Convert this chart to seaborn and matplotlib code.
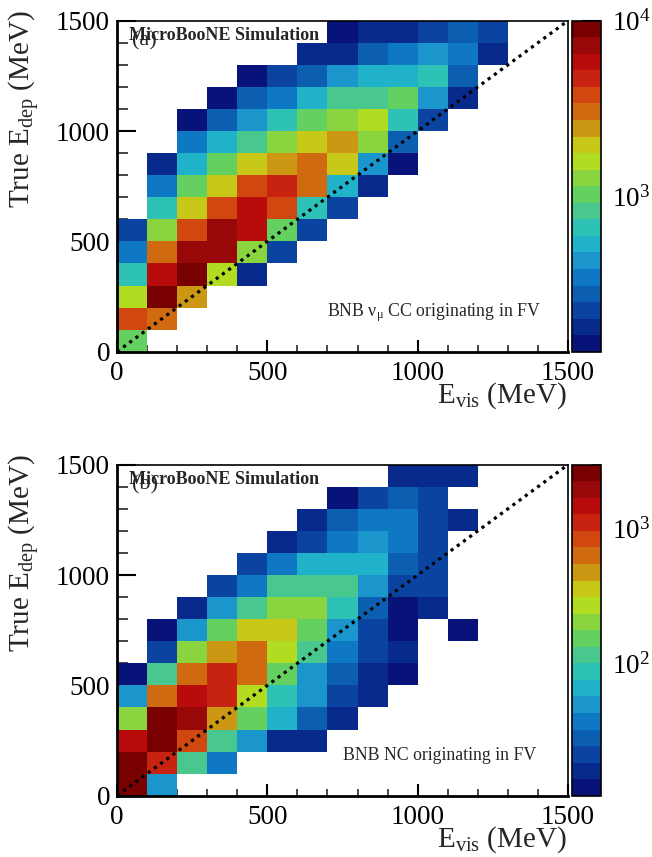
import numpy as np
import pandas as pd
import matplotlib
matplotlib.use("Agg")
import matplotlib.pyplot as plt
import seaborn as sns
from matplotlib.colors import ListedColormap, LogNorm
from matplotlib.ticker import MultipleLocator, LogLocator, NullFormatter

# bin centres (MeV), 15 bins of 100 MeV on both axes
bin_centers = [50, 150, 250, 350, 450, 550, 650, 750, 850, 950, 1050, 1150, 1250, 1350, 1450]

# BNB numu CC, rows = true E_dep bins (bottom -> top), cols = E_vis bins
cc_counts = [
    [1023, 0, 0, 0, 0, 0, 0, 0, 0, 0, 0, 0, 0, 0, 0],
    [3767, 3033, 0, 0, 0, 0, 0, 0, 0, 0, 0, 0, 0, 0, 0],
    [1580, 8980, 2440, 0, 0, 0, 0, 0, 0, 0, 0, 0, 0, 0, 0],
    [662, 5816, 8980, 1580, 180, 0, 0, 0, 0, 0, 0, 0, 0, 0, 0],
    [345, 3033, 7228, 7228, 1271, 224, 0, 0, 0, 0, 0, 0, 0, 0, 0],
    [224, 1271, 3767, 7228, 5816, 1023, 224, 0, 0, 0, 0, 0, 0, 0, 0],
    [0, 662, 1964, 3767, 5816, 3767, 662, 224, 0, 0, 0, 0, 0, 0, 0],
    [0, 345, 1023, 1964, 3767, 4680, 3033, 533, 180, 0, 0, 0, 0, 0, 0],
    [0, 180, 533, 1023, 1964, 2440, 3033, 1964, 430, 145, 0, 0, 0, 0, 0],
    [0, 0, 345, 533, 824, 1271, 1964, 2440, 1271, 278, 0, 0, 0, 0, 0],
    [0, 0, 145, 278, 430, 662, 1023, 1271, 1580, 662, 224, 0, 0, 0, 0],
    [0, 0, 0, 145, 278, 345, 533, 824, 824, 1023, 430, 180, 0, 0, 0],
    [0, 0, 0, 0, 145, 224, 278, 430, 533, 533, 662, 278, 0, 0, 0],
    [0, 0, 0, 0, 0, 0, 180, 180, 278, 345, 430, 345, 180, 0, 0],
    [0, 0, 0, 0, 0, 0, 0, 145, 180, 180, 224, 278, 224, 0, 0],
]

# BNB NC
nc_counts = [
    [2605, 48, 0, 0, 0, 0, 0, 0, 0, 0, 0, 0, 0, 0, 0],
    [2605, 1107, 113, 36, 0, 0, 0, 0, 0, 0, 0, 0, 0, 0, 0],
    [1472, 2605, 832, 113, 48, 15, 15, 0, 0, 0, 0, 0, 0, 0, 0],
    [200, 2605, 1958, 471, 150, 64, 27, 15, 0, 0, 0, 0, 0, 0, 0],
    [48, 626, 1472, 1107, 266, 85, 48, 20, 15, 0, 0, 0, 0, 0, 0],
    [12, 113, 626, 1107, 626, 150, 48, 27, 15, 12, 0, 0, 0, 0, 0],
    [0, 20, 200, 471, 626, 266, 113, 36, 20, 15, 0, 0, 0, 0, 0],
    [0, 12, 48, 150, 354, 354, 150, 48, 20, 12, 0, 12, 0, 0, 0],
    [0, 0, 15, 48, 113, 200, 200, 85, 27, 12, 15, 0, 0, 0, 0],
    [0, 0, 0, 20, 36, 113, 113, 113, 48, 20, 20, 0, 0, 0, 0],
    [0, 0, 0, 0, 20, 36, 64, 64, 64, 27, 20, 0, 0, 0, 0],
    [0, 0, 0, 0, 0, 15, 20, 36, 48, 36, 20, 0, 0, 0, 0],
    [0, 0, 0, 0, 0, 0, 15, 27, 36, 36, 20, 15, 0, 0, 0],
    [0, 0, 0, 0, 0, 0, 0, 12, 20, 27, 20, 0, 0, 0, 0],
    [0, 0, 0, 0, 0, 0, 0, 0, 0, 15, 15, 15, 0, 0, 0],
]

cc_zrange = (130, 10000)
nc_zrange = (10.3, 3000)
axis_ticks = [0, 500, 1000, 1500]

sns.set_theme(style="ticks")
plt.rcParams['font.family'] = ['Liberation Serif', 'DejaVu Serif']
plt.rcParams['mathtext.fontset'] = 'custom'
plt.rcParams['mathtext.rm'] = 'Liberation Serif'
plt.rcParams['mathtext.it'] = 'Liberation Serif:italic'
plt.rcParams['mathtext.bf'] = 'Liberation Serif:bold'

# ROOT-like 20 step palette
root_colors = ['#08137a', '#082a8c', '#0a44a0', '#0c5eb0', '#0f78c4',
               '#1a96cc', '#20b2c8', '#2ec2b6', '#48c88e', '#64d060',
               '#8ad440', '#b2dc22', '#c8c818', '#cc9814', '#d06a10',
               '#d04810', '#c82210', '#b80c0c', '#980808', '#780000']
cmap = ListedColormap(root_colors)


def to_long(counts):
    rows = []
    for j, row in enumerate(counts):
        for i, c in enumerate(row):
            if c > 0:
                rows.append((bin_centers[i], bin_centers[j], c))
    return pd.DataFrame(rows, columns=['evis', 'edep', 'n'])


fig = plt.figure(figsize=(6.52, 8.57), dpi=100)
W, H = 652.0, 857.0

panels = [
    (cc_counts, cc_zrange, 0, '(a)', 'BNB \u03bd$_{\\mathrm{\u03bc}}$ CC originating in FV', 327),
    (nc_counts, nc_zrange, 444, '(b)', 'BNB NC originating in FV', 343),
]

for counts, zr, off, tag, note, note_x in panels:
    top = 20.7 + off
    ax = fig.add_axes([117 / W, 1 - (top + 331) / H, 451 / W, 331 / H])
    cax = fig.add_axes([572 / W, 1 - (top + 331) / H, 29 / W, 331 / H])

    df = to_long(counts)
    sns.histplot(data=df, x='evis', y='edep', weights='n', bins=15,
                 binrange=(0, 1500), cmap=cmap, ax=ax)
    mesh = ax.collections[0]
    mesh.set_norm(LogNorm(vmin=zr[0], vmax=zr[1]))

    ax.plot([0, 1500], [0, 1500], color='black', lw=2.3,
            linestyle=(0, (1, 1.4)), dash_capstyle='butt')

    ax.set_xlim(0, 1500)
    ax.set_ylim(0, 1500)
    ax.set_xticks(axis_ticks)
    ax.set_yticks(axis_ticks)
    ax.xaxis.set_minor_locator(MultipleLocator(100))
    ax.yaxis.set_minor_locator(MultipleLocator(100))
    ax.set_xlabel('')
    ax.set_ylabel('')
    ax.tick_params(axis='x', which='major', direction='in', length=9, width=1.5,
                   labelsize=19.5, pad=7, top=False, colors='black')
    ax.tick_params(axis='x', which='minor', direction='in', length=5, width=1.2, top=False)
    ax.tick_params(axis='y', which='major', direction='in', length=14, width=1.5,
                   labelsize=19.5, pad=5, right=False, colors='black')
    ax.tick_params(axis='y', which='minor', direction='in', length=8, width=1.2, right=False)
    for side in ['left', 'bottom']:
        ax.spines[side].set_linewidth(2)
    for side in ['top', 'right']:
        ax.spines[side].set_linewidth(1.2)
    for s in ax.spines.values():
        s.set_color('black')
        s.set_visible(True)

    cb = fig.colorbar(mesh, cax=cax)
    cb.outline.set_linewidth(1.2)
    cb.outline.set_edgecolor('black')
    cax.yaxis.set_major_locator(LogLocator(base=10))
    cax.yaxis.set_minor_locator(LogLocator(base=10, subs=np.arange(2, 10)))
    cax.yaxis.set_minor_formatter(NullFormatter())
    cax.tick_params(which='major', direction='in', length=14, width=1.5,
                    labelsize=19.5, pad=8, right=True, left=False, colors='black')
    cax.tick_params(which='minor', direction='in', length=7, width=1.2,
                    right=True, left=False)

    fig.text(25 / W, 1 - (109 + off) / H, 'True E$_{\\mathrm{dep}}$ (MeV)',
             rotation=90, ha='center', va='center', fontsize=21)
    fig.text(567 / W, 1 - (403 + off) / H, 'E$_{\\mathrm{vis}}$ (MeV)',
             ha='right', va='baseline', fontsize=21)
    fig.text(132 / W, 1 - (41 + off) / H, tag, ha='left', va='center', fontsize=16)
    fig.text(129 / W, 1 - (40 + off) / H, 'MicroBooNE Simulation',
             ha='left', va='baseline', fontsize=13, fontweight='bold')
    fig.text(note_x / W, 1 - (316 + off) / H, note,
             ha='left', va='baseline', fontsize=12.8)

fig.savefig('out.png', dpi=100)
